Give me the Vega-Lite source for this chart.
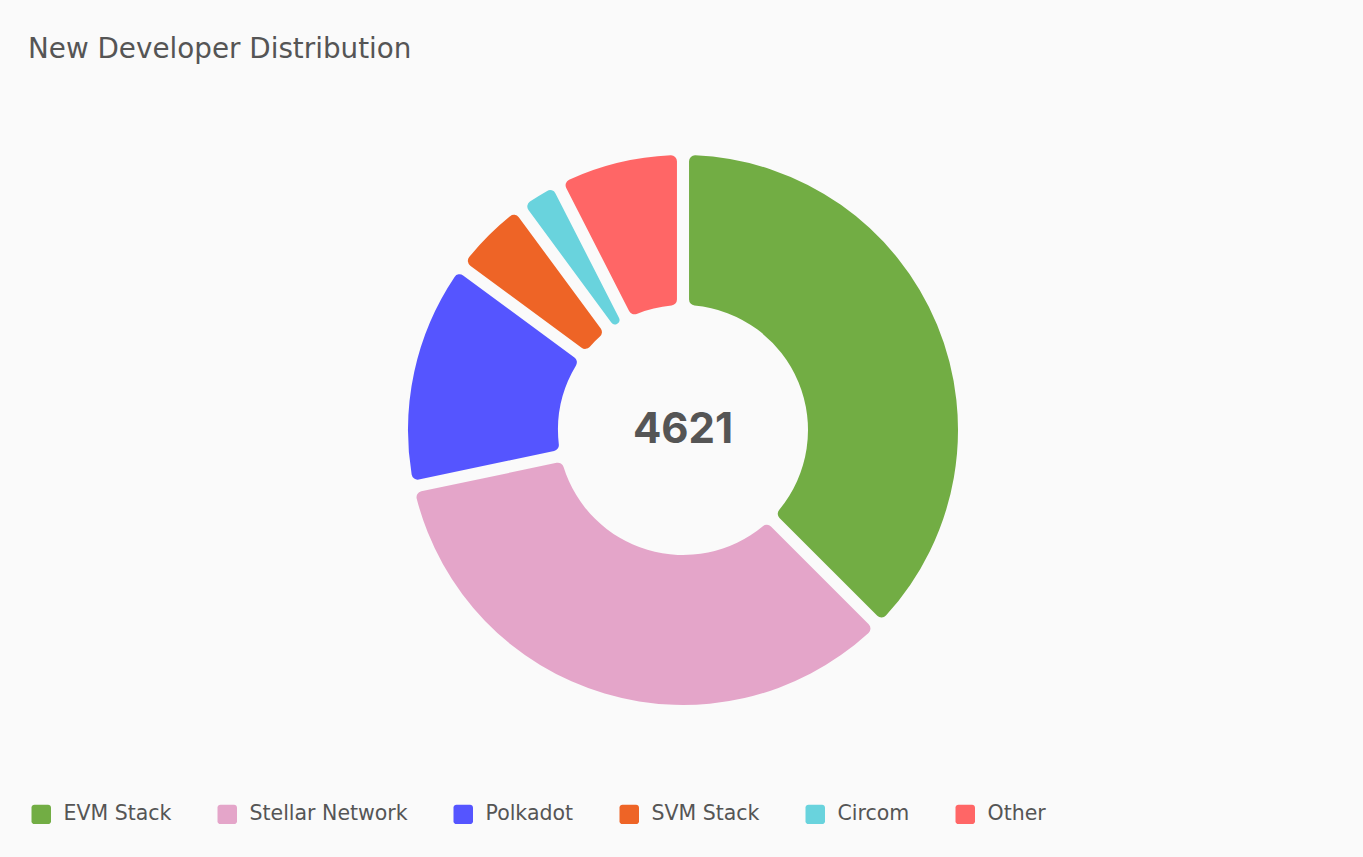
{
  "$schema": "https://vega.github.io/schema/vega-lite/v6.json",
  "autosize": "none",
  "width": 1362,
  "height": 858,
  "padding": {"left": 2, "top": 1, "right": 0, "bottom": 0},
  "background": "#fafafa",
  "title": {
    "text": "New Developer Distribution",
    "anchor": "start",
    "frame": "group",
    "dx": 26,
    "dy": 67,
    "font": "DejaVu Sans",
    "fontSize": 27.8,
    "fontWeight": "normal",
    "color": "#555555"
  },
  "data": {
    "values": [
      {"idx": 1, "category": "EVM Stack", "developers": 1733},
      {"idx": 2, "category": "Stellar Network", "developers": 1580},
      {"idx": 3, "category": "Polkadot", "developers": 620},
      {"idx": 4, "category": "SVM Stack", "developers": 221},
      {"idx": 5, "category": "Circom", "developers": 120},
      {"idx": 6, "category": "Other", "developers": 347}
    ]
  },
  "layer": [
    {
      "mark": {"type": "arc", "outerRadius": 275, "innerRadius": 125, "padAngle": 0.04, "cornerRadius": 6},
      "encoding": {
        "theta": {"field": "developers", "type": "quantitative", "stack": true},
        "order": {"field": "idx", "type": "quantitative"},
        "color": {
          "field": "category",
          "type": "nominal",
          "sort": null,
          "scale": {
            "domain": ["EVM Stack", "Stellar Network", "Polkadot", "SVM Stack", "Circom", "Other"],
            "range": ["#72ad44", "#e4a5c9", "#5555ff", "#ee6426", "#69d3dd", "#ff6666"]
          },
          "legend": {
            "title": null,
            "orient": "none",
            "legendX": 29,
            "legendY": 803,
            "direction": "horizontal",
            "symbolType": "M-0.7,-1H0.7A0.3,0.3 0 0 1 1,-0.7V0.7A0.3,0.3 0 0 1 0.7,1H-0.7A0.3,0.3 0 0 1 -1,0.7V-0.7A0.3,0.3 0 0 1 -0.7,-1Z",
            "symbolSize": 380,
            "symbolStrokeWidth": 0,
            "symbolOpacity": 1,
            "labelFont": "DejaVu Sans",
            "labelFontSize": 20.5,
            "labelLimit": 400,
            "labelColor": "#555555",
            "labelOffset": 12,
            "columnPadding": 45
          }
        },
        "tooltip": [
          {"field": "category", "type": "nominal"},
          {"field": "developers", "type": "quantitative"}
        ]
      }
    },
    {
      "transform": [
        {"aggregate": [{"op": "sum", "field": "developers", "as": "total"}]}
      ],
      "mark": {"type": "text", "font": "Inter", "fontSize": 42, "fontWeight": "bold", "color": "#555555", "align": "center", "baseline": "middle"},
      "encoding": {
        "text": {"field": "total", "type": "quantitative", "format": "d"}
      }
    }
  ],
  "config": {"view": {"stroke": null}}
}
